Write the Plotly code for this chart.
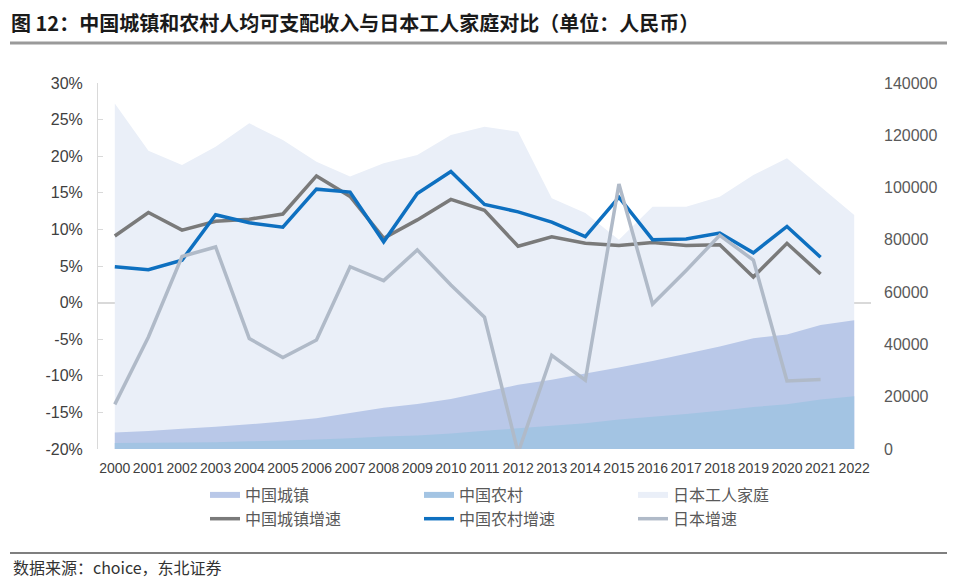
import plotly.graph_objects as go

years = [str(y) for y in range(2000, 2023)]
growth_years = years[:-1]

# Income levels (RMB), right axis
urban_income = [6280, 6860, 7703, 8472, 9422, 10493, 11759, 13786, 15781, 17175, 19109, 21810,
                24565, 26467, 28844, 31195, 33616, 36396, 39251, 42359, 43834, 47412, 49283]
rural_income = [2253, 2366, 2476, 2622, 2936, 3255, 3587, 4140, 4761, 5153, 5919, 6977,
                7917, 8896, 9892, 11320, 12300, 13432, 14617, 16021, 17131, 18931, 20133]
japan_income = [132200, 114100, 108600, 115600, 124600, 118200, 109900, 104200, 109300, 112500,
                120100, 123300, 121400, 95900, 90300, 80000, 92700, 92700, 96500, 104800,
                111200, 100300, 89500]

# Growth rates (%), left axis
urban_growth = [9.1, 12.3, 9.9, 11.1, 11.4, 12.1, 17.3, 14.5, 8.8, 11.3, 14.1, 12.6, 7.7, 9.0,
                8.1, 7.8, 8.2, 7.8, 7.9, 3.5, 8.1, 3.9]
rural_growth = [4.9, 4.5, 5.8, 12.0, 10.9, 10.3, 15.5, 15.1, 8.3, 14.9, 17.9, 13.4, 12.4, 11.0,
                9.0, 14.4, 8.6, 8.7, 9.5, 6.8, 10.4, 6.2]
japan_growth = [-13.9, -4.7, 6.3, 7.6, -4.9, -7.5, -5.1, 4.9, 3.0, 7.2, 2.4, -2.0, -20.5, -7.2,
                -10.6, 16.2, -0.2, 4.4, 9.2, 5.8, -10.7, -10.5]

pct_ticks = [-20, -15, -10, -5, 0, 5, 10, 15, 20, 25, 30]
pct_labels = ["-20%", "-15%", "-10%", "-5%", "0%", "5%", "10%", "15%", "20%", "25%", "30%"]
income_ticks = [0, 20000, 40000, 60000, 80000, 100000, 120000, 140000]

FONT = "Liberation Sans, Arial, sans-serif"
CJK = "Noto Sans CJK SC, sans-serif"

# page offset of the figure div (default body margin)
OX, OY = 8, 8
W, H = 955 - OX, 580 - OY
L, R, T, B = 98 - OX, 955 - 871, 83 - OY, 580 - 449
PW = W - L - R
PH = H - T - B


def px(xp):
    return (xp - OX - L) / PW


def py(yp):
    return (H - B - (yp - OY)) / PH


fig = go.Figure()

# Areas (primary y axis, drawn below the lines)
fig.add_trace(go.Scatter(x=years, y=japan_income, name="日本工人家庭", mode="none",
                         fill="tozeroy", fillcolor="#eaeff8", legendrank=3, yaxis="y"))
fig.add_trace(go.Scatter(x=years, y=urban_income, name="中国城镇", mode="none",
                         fill="tozeroy", fillcolor="#b9c8e8", legendrank=1, yaxis="y"))
fig.add_trace(go.Scatter(x=years, y=rural_income, name="中国农村", mode="none",
                         fill="tozeroy", fillcolor="#a3c4e3", legendrank=2, yaxis="y"))

# Growth lines (overlay axis, on top)
fig.add_trace(go.Scatter(x=growth_years, y=urban_growth, name="中国城镇增速", mode="lines",
                         line=dict(color="#7a7a7a", width=3.5), legendrank=4, yaxis="y2"))
fig.add_trace(go.Scatter(x=growth_years, y=rural_growth, name="中国农村增速", mode="lines",
                         line=dict(color="#0e70c0", width=3.5), legendrank=5, yaxis="y2"))
fig.add_trace(go.Scatter(x=growth_years, y=japan_growth, name="日本增速", mode="lines",
                         line=dict(color="#b0bac8", width=3.5), legendrank=6, yaxis="y2"))

fig.update_layout(
    width=W, height=H,
    margin=dict(l=L, r=R, t=T, b=B),
    paper_bgcolor="white", plot_bgcolor="white",
    showlegend=True,
    title=dict(text="<b>图 12：中国城镇和农村人均可支配收入与日本工人家庭对比（单位：人民币）</b>",
               x=(11 - OX) / W, xanchor="left", xref="container",
               y=1 - (23.5 - OY) / H, yanchor="middle", yref="container",
               font=dict(family=CJK, size=20, color="#1a1a1a")),
    xaxis=dict(type="category", range=[-0.5, 22.5], tickangle=0, showgrid=False,
               showline=False, ticks="", tickfont=dict(family=FONT, size=14, color="#404040"),
               ticklabelstandoff=9),
    yaxis=dict(side="right", range=[0, 140000], tickvals=income_ticks, tickformat="d",
               showgrid=False, showline=False, zeroline=False, ticks="",
               tickfont=dict(family=FONT, size=16, color="#595959"), ticklabelstandoff=12),
    yaxis2=dict(overlaying="y", side="left", range=[-20, 30], tickvals=pct_ticks,
                ticktext=pct_labels, showgrid=False, showline=True, linecolor="#d9d9d9",
                linewidth=1, ticks="inside", ticklen=5, tickcolor="#d9d9d9",
                zeroline=True, zerolinecolor="#d9d9d9", zerolinewidth=1.5,
                tickfont=dict(family=FONT, size=16, color="#404040"), ticklabelstandoff=11),
    legend=dict(orientation="h", x=px(205), xanchor="left",
                y=py(478), yanchor="top", traceorder="normal",
                entrywidth=169, entrywidthmode="pixels",
                font=dict(family=CJK, size=16, color="#595959"), bgcolor="rgba(0,0,0,0)"),
    shapes=[
        dict(type="line", xref="paper", yref="paper", x0=px(10), x1=px(955),
             y0=py(43), y1=py(43), line=dict(color="#9a9a9a", width=3)),
        dict(type="line", xref="paper", yref="paper", x0=px(10), x1=px(955),
             y0=py(553), y1=py(553), line=dict(color="#7f7f7f", width=2)),
    ],
    annotations=[
        dict(text="数据来源：choice，东北证券", xref="paper", yref="paper",
             x=px(11), y=py(566.5), xanchor="left", yanchor="middle",
             showarrow=False, font=dict(family=CJK, size=16, color="#333333")),
    ],
)

fig.write_html("out.html")
